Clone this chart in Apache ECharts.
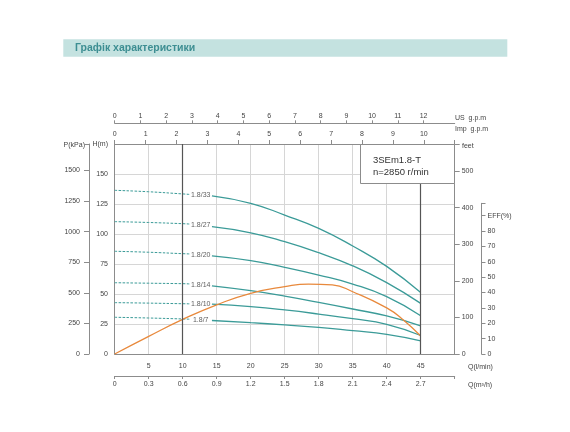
<!DOCTYPE html>
<html><head><meta charset="utf-8">
<script src="https://cdn.jsdelivr.net/npm/echarts/dist/echarts.min.js"></script>
<style>html,body{margin:0;padding:0;background:#fff}#c{width:570px;height:432px}</style>
</head><body><div id="c"></div>
<script>
// ---- data ----
const chartTitle = 'Графік характеристики';
const modelName = '3SEm1.8-T';
const speedText = 'n=2850 r/min';
const curveNames = ['1.8/33', '1.8/27', '1.8/20', '1.8/14', '1.8/10', '1.8/7'];
const dashQ = [0, 5, 10, 11];
const dashH = [
  [136.4, 135.2, 133.4, 133.0],
  [110.3, 109.6, 108.6, 108.3],
  [85.6, 84.8, 83.6, 83.4],
  [59.4, 59.0, 58.6, 58.4],
  [42.8, 42.4, 41.9, 41.8],
  [30.6, 30.0, 29.2, 29.0]
];
const solidQ = [14.3, 20, 25, 30, 35, 40, 45];
const solidH = [
  [131.8, 125.6, 115.8, 104.7, 90.0, 73.0, 51.2],
  [106.1, 101.0, 93.6, 84.4, 73.5, 59.5, 42.2],
  [81.8, 77.8, 72.2, 65.8, 58.3, 47.8, 31.9],
  [56.8, 52.8, 48.3, 43.0, 37.5, 31.7, 23.5],
  [41.5, 39.4, 36.7, 33.3, 29.4, 24.7, 15.4],
  [27.9, 26.1, 24.2, 22.2, 19.4, 16.4, 11.0]
];
const effQ = [0, 5, 10, 15, 20, 25, 28.5, 32, 35, 40, 42.5, 45];
const effV = [0, 11.5, 22.5, 32, 39.5, 43.8, 45.5, 45, 40.5, 30, 22, 11.7];
const effLabel = 'EFF(%)';
const effLabelQ = 25;
const markQ = [10, 45];
const usTicks = [0, 1, 2, 3, 4, 5, 6, 7, 8, 9, 10, 11, 12];
const axisNames = { p: 'P(kPa)', feet: 'feet', us: 'US  g.p.m', imp: 'Imp  g.p.m', ql: 'Q(l/min)', qm: 'Q(m³/h)' };
const qMax = 50;      // l/min
const hMax = 175;     // m
const effMax = 98;    // %

// ---- unit conversions ----
const US_GAL = 3.78541, IMP_GAL = 4.54609, KPA_PER_M = 9.81, M_PER_FT = 0.3048;

const teal = '#3b9b98';
const orange = '#e8893c';
const axisCol = '#8c8c8c';
const gridCol = '#d6d6d6';
const txt = '#444';
const fs = 7;
const ff = 'Liberation Sans, Arial, sans-serif';

const series = [];
curveNames.forEach((nm, i) => {
  series.push({
    type: 'line', xAxisIndex: 0, yAxisIndex: 0, smooth: true, showSymbol: false, silent: true,
    data: dashQ.map((q, j) => [q, dashH[i][j]]),
    lineStyle: { color: teal, width: 1, type: [2.5, 1.5] }
  });
  const solid = {
    type: 'line', xAxisIndex: 0, yAxisIndex: 0, smooth: true, showSymbol: false, silent: true,
    data: solidQ.map((q, j) => [q, solidH[i][j]]),
    lineStyle: { color: teal, width: 1.3 }
  };
  if (i === 0) {
    solid.markLine = {
      symbol: 'none', silent: true, label: { show: false },
      lineStyle: { color: '#555', width: 1.2, type: 'solid' },
      data: markQ.map(q => ({ xAxis: q }))
    };
  }
  series.push(solid);
  const lq = (dashQ[dashQ.length - 1] + solidQ[0]) / 2;
  const lh = (dashH[i][dashH[i].length - 1] + solidH[i][0]) / 2;
  series.push({
    type: 'scatter', xAxisIndex: 0, yAxisIndex: 0, silent: true, symbolSize: 0.1,
    itemStyle: { color: 'transparent' },
    data: [{ value: [lq, lh], name: nm }],
    label: { show: true, position: 'inside', formatter: '{b}', fontSize: fs, color: '#333' }
  });
});
series.push({
  type: 'line', xAxisIndex: 4, yAxisIndex: 4, smooth: true, showSymbol: false, silent: true,
  data: effQ.map((q, j) => q === effLabelQ ? {
    value: [q, effV[j]],
    label: { show: true, position: 'top', distance: 2, offset: [-17, 0], formatter: effLabel, fontSize: fs, color: '#333' }
  } : [q, effV[j]]),
  lineStyle: { color: orange, width: 1.3 }
});

function nameText(text, x, y, align) {
  return { type: 'text', x: x, y: y, silent: true,
    style: { text: text, fill: txt, fontSize: fs, fontFamily: ff, align: align, verticalAlign: 'middle' } };
}

const chart = echarts.init(document.getElementById('c'));
chart.setOption({
  animation: false,
  backgroundColor: '#fff',
  textStyle: { fontFamily: ff },
  graphic: [
    { type: 'rect', z: -1, shape: { x: 63.3, y: 39.3, width: 444, height: 17.4 }, style: { fill: '#c4e2e0' } },
    nameText(axisNames.p, 85, 145, 'right'),
    nameText(axisNames.feet, 462, 146, 'left'),
    nameText(axisNames.us, 455, 118, 'left'),
    nameText(axisNames.imp, 455, 129, 'left'),
    nameText(axisNames.ql, 468, 367, 'left'),
    nameText(axisNames.qm, 468, 385, 'left')
  ],
  title: [{
    text: chartTitle, left: 75, top: 42.5, padding: 0,
    textStyle: { fontSize: 10.5, fontWeight: 'bold', color: '#3d8e92' }
  }, {
    text: modelName + '\n' + speedText, left: 360, top: 144, z: 10,
    backgroundColor: '#fff', borderColor: axisCol, borderWidth: 1,
    padding: [11, 26, 6, 13],
    textStyle: { fontSize: 9.5, lineHeight: 11.5, fontWeight: 'normal', color: '#333' }
  }],
  grid: [
    { left: 114.7, right: 115.3, top: 144, bottom: 78, containLabel: false, outerBoundsMode: 'none' },
    { left: 114.7, right: 115.3, top: 354 - effMax * 1.5375, bottom: 78, containLabel: false, outerBoundsMode: 'none' }
  ],
  xAxis: [{
    type: 'value', gridIndex: 0, position: 'bottom', min: 0, max: qMax, interval: 5,
    axisLine: { show: true, onZero: false, lineStyle: { color: axisCol } },
    axisTick: { show: false },
    axisLabel: { margin: 9, fontSize: fs, color: txt, formatter: v => (v > 0 && v < qMax) ? String(v) : '' },
    splitLine: { show: true, lineStyle: { color: gridCol, width: 1 } }
  }, {
    type: 'value', gridIndex: 0, position: 'bottom', offset: 22, min: 0, max: qMax * 0.06, interval: 0.3,
    axisLine: { show: true, onZero: false, lineStyle: { color: axisCol } },
    axisTick: { show: true, length: 3, lineStyle: { color: axisCol } },
    axisLabel: { margin: 5, fontSize: fs, color: txt, formatter: v => v > 2.95 ? '' : (v === 0 ? '0' : v.toFixed(1)) },
    splitLine: { show: false }
  }, {
    type: 'value', gridIndex: 0, position: 'top', offset: 0, min: 0, max: qMax / IMP_GAL, interval: 1,
    axisLine: { show: true, onZero: false, lineStyle: { color: axisCol } },
    axisTick: { show: true, length: 4, lineStyle: { color: axisCol } },
    axisLabel: { margin: 6, fontSize: fs, color: txt, formatter: v => (v > 10.5 ? '' : String(v)) },
    splitLine: { show: false }
  }, {
    type: 'value', gridIndex: 0, position: 'top', offset: 20.7, min: 0, max: qMax / US_GAL,
    axisLine: { show: true, onZero: false, lineStyle: { color: axisCol } },
    axisTick: { show: true, length: 3, customValues: usTicks, lineStyle: { color: axisCol } },
    axisLabel: { margin: 3.5, fontSize: fs, color: txt, customValues: usTicks },
    splitLine: { show: false }
  }, {
    type: 'value', gridIndex: 1, min: 0, max: qMax, show: false
  }],
  yAxis: [{
    type: 'value', gridIndex: 0, position: 'left', min: 0, max: hMax, interval: 25,
    axisLine: { show: true, onZero: false, lineStyle: { color: axisCol } },
    axisTick: { show: false },
    axisLabel: { margin: 6.7, fontSize: fs, color: txt, formatter: v => v === hMax ? 'H(m)' : String(v) },
    splitLine: { show: true, lineStyle: { color: gridCol, width: 1 } }
  }, {
    type: 'value', gridIndex: 0, position: 'left', offset: 25.7, min: 0, max: hMax * KPA_PER_M, interval: 250,
    axisLine: { show: true, onZero: false, lineStyle: { color: axisCol } },
    axisTick: { show: true, length: 5, lineStyle: { color: axisCol } },
    axisLabel: { margin: 9, fontSize: fs, color: txt, formatter: v => v > 1600 ? '' : String(v) },
    splitLine: { show: false }
  }, {
    type: 'value', gridIndex: 0, position: 'right', offset: 0, min: 0, max: hMax / M_PER_FT, interval: 100,
    axisLine: { show: true, onZero: false, lineStyle: { color: axisCol } },
    axisTick: { show: true, length: 5, lineStyle: { color: axisCol } },
    axisLabel: { margin: 7, fontSize: fs, color: txt, formatter: v => v > 550 ? '' : String(v) },
    splitLine: { show: false }
  }, {
    type: 'value', gridIndex: 1, position: 'right', offset: 26.8, min: 0, max: effMax, interval: 10,
    axisLine: { show: true, onZero: false, lineStyle: { color: axisCol } },
    axisTick: { show: true, length: 4, lineStyle: { color: axisCol } },
    axisLabel: { margin: 6, fontSize: fs, color: txt, formatter: v => v === 90 ? effLabel : (v <= 80 ? String(v) : '') },
    splitLine: { show: false }
  }, {
    type: 'value', gridIndex: 1, position: 'left', min: 0, max: effMax, show: false
  }],
  series: series
});
</script>
</body></html>
